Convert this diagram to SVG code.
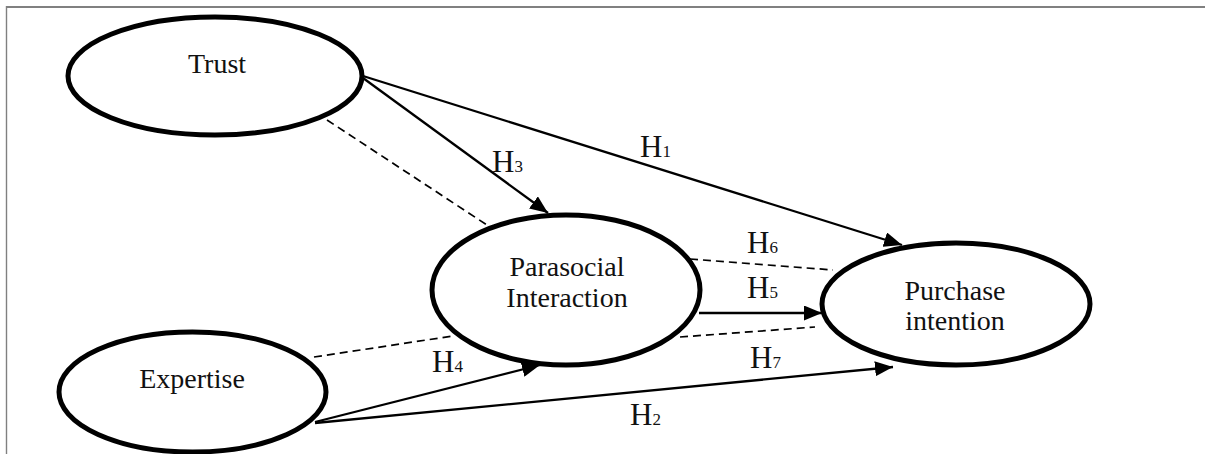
<svg xmlns="http://www.w3.org/2000/svg" width="1205" height="454" viewBox="0 0 1205 454">
<style>
.node ellipse{fill:#fff;stroke:#000;stroke-width:5}
.node text{font-family:"Liberation Serif",serif;font-size:28px;fill:#111;text-anchor:middle}
.lbl{font-family:"Liberation Serif",serif;font-size:31px;fill:#111}
.lbl tspan{font-size:17px}
.solid{stroke:#000;stroke-width:2.3;fill:none}
.dash{stroke:#000;stroke-width:1.7;fill:none;stroke-dasharray:8 5}
.border{stroke:#808080;fill:none}
</style>
<defs>
<marker id="ah" markerUnits="userSpaceOnUse" markerWidth="19" markerHeight="15" refX="18" refY="7.5" orient="auto">
<path d="M0,0 L18,7.5 L0,15 Z" fill="#000"/>
</marker>
</defs>
<g id="frame">
<line class="border" x1="6" y1="7" x2="1205" y2="7" stroke-width="2"/>
<line class="border" x1="6.5" y1="6" x2="6.5" y2="454" stroke-width="1.4"/>
</g>
<g id="connectors">
<line class="solid" x1="363" y1="76" x2="902" y2="245" marker-end="url(#ah)"/>
<line class="solid" x1="363" y1="78" x2="548" y2="213" marker-end="url(#ah)"/>
<line class="dash" x1="327" y1="120" x2="487" y2="225"/>
<line class="dash" x1="690" y1="259" x2="833" y2="270"/>
<line class="solid" x1="699" y1="313" x2="822" y2="313" marker-end="url(#ah)"/>
<line class="dash" x1="680" y1="337" x2="815" y2="327"/>
<line class="dash" x1="314" y1="357" x2="453" y2="336"/>
<line class="solid" x1="315" y1="422" x2="540" y2="365" marker-end="url(#ah)"/>
<line class="solid" x1="315" y1="423" x2="893" y2="367" marker-end="url(#ah)"/>
<text class="lbl" x="640" y="157">H<tspan>1</tspan></text>
<text class="lbl" x="492" y="172">H<tspan>3</tspan></text>
<text class="lbl" x="747" y="253">H<tspan>6</tspan></text>
<text class="lbl" x="747" y="298">H<tspan>5</tspan></text>
<text class="lbl" x="750" y="368">H<tspan>7</tspan></text>
<text class="lbl" x="432" y="372">H<tspan>4</tspan></text>
<text class="lbl" x="630" y="425">H<tspan>2</tspan></text>
</g>
<g id="trust" class="node">
<ellipse cx="215" cy="76" rx="147" ry="59"/>
<text x="217" y="73">Trust</text>
</g>
<g id="expertise" class="node">
<ellipse cx="192.5" cy="392" rx="133.5" ry="60"/>
<text x="192" y="388">Expertise</text>
</g>
<g id="parasocial" class="node">
<ellipse cx="566" cy="290" rx="134" ry="75"/>
<text x="567" y="276">Parasocial</text>
<text x="567" y="307">Interaction</text>
</g>
<g id="purchase" class="node">
<ellipse cx="956" cy="304" rx="134" ry="61"/>
<text x="955" y="300">Purchase</text>
<text x="955" y="330">intention</text>
</g>
</svg>
